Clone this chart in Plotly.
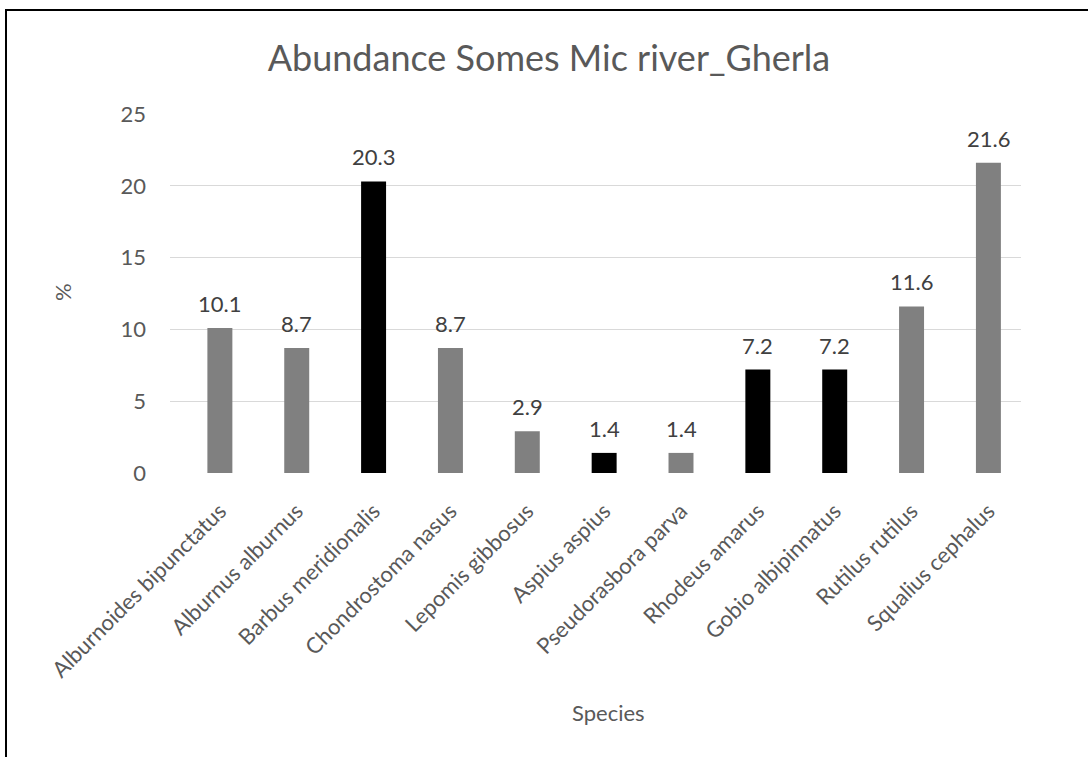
import plotly.graph_objects as go

species = [
    "Alburnoides bipunctatus", "Alburnus alburnus", "Barbus meridionalis",
    "Chondrostoma nasus", "Lepomis gibbosus", "Aspius aspius",
    "Pseudorasbora parva", "Rhodeus amarus", "Gobio albipinnatus",
    "Rutilus rutilus", "Squalius cephalus",
]
abundance = [10.1, 8.7, 20.3, 8.7, 2.9, 1.4, 1.4, 7.2, 7.2, 11.6, 21.6]
highlighted = [False, False, True, False, False, True, False, True, True, False, False]
y_ticks = [0, 5, 10, 15, 20, 25]

W, H = 1088, 757
L, R, T, B = 170, 67, 114, 284
pw, ph = W - L - R, H - T - B

FONT = "Lato"
GRAY_TXT = "#595959"

colors = ["#000000" if h else "#808080" for h in highlighted]

fig = go.Figure()
fig.add_trace(go.Bar(
    x=species, y=abundance, marker=dict(color=colors, line=dict(width=0)),
    width=0.325, hoverinfo="x+y",
))

for s, v in zip(species, abundance):
    fig.add_annotation(x=s, y=v, text=f"{v:.1f}", showarrow=False,
                       yanchor="bottom", yshift=9,
                       font=dict(family=FONT, size=22, color="#404040"))

def px_x(px):
    return (px - L) / pw

def px_y(py):
    return (H - B - py) / ph

# axis titles
fig.add_annotation(xref="paper", yref="paper", x=px_x(62), y=px_y(292),
                   text="%", textangle=-90, showarrow=False,
                   xanchor="center", yanchor="middle",
                   font=dict(family=FONT, size=22, color=GRAY_TXT))
fig.add_annotation(xref="paper", yref="paper", x=px_x(608), y=px_y(712),
                   text="Species", showarrow=False,
                   xanchor="center", yanchor="middle",
                   font=dict(family=FONT, size=22, color=GRAY_TXT))

# chart border (top and left edges visible)
fig.add_shape(type="line", xref="paper", yref="paper",
              x0=px_x(5), x1=px_x(W + 5), y0=px_y(10), y1=px_y(10),
              line=dict(color="#000000", width=2))
fig.add_shape(type="line", xref="paper", yref="paper",
              x0=px_x(6), x1=px_x(6), y0=px_y(9), y1=px_y(H + 5),
              line=dict(color="#000000", width=2))

fig.update_layout(
    width=W, height=H,
    margin=dict(l=L, r=R, t=T, b=B),
    paper_bgcolor="white", plot_bgcolor="white",
    showlegend=False,
    title=dict(text="Abundance Somes Mic river_Gherla",
               x=549 / W, xanchor="center", xref="container",
               y=1 - 58 / H, yanchor="middle", yref="container",
               font=dict(family=FONT, size=36, color=GRAY_TXT)),
    xaxis=dict(
        type="category", range=[-0.649, 10.424],
        tickangle=-45, showgrid=False, zeroline=False,
        showline=False, ticks="", ticklabelstandoff=20,
        tickfont=dict(family=FONT, size=22, color=GRAY_TXT),
    ),
    yaxis=dict(
        range=[0, 25], tickvals=y_ticks, showgrid=True,
        gridcolor="#d9d9d9", gridwidth=1, zeroline=False,
        showline=False, ticks="", ticklabelstandoff=23,
        tickfont=dict(family=FONT, size=22, color=GRAY_TXT),
    ),
)

fig.write_html("out.html", config={"displayModeBar": False},
               post_script="document.body.style.margin='0';document.body.style.padding='0';")
